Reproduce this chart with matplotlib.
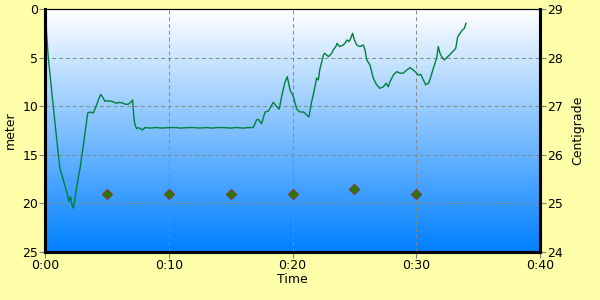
import numpy as np
import matplotlib
matplotlib.use("Agg")
import matplotlib.pyplot as plt
from matplotlib.colors import LinearSegmentedColormap
from matplotlib.ticker import FuncFormatter

# dive profile: time (minutes) and depth (meter)
time_min = [0.05, 0.27, 0.67, 1.08, 1.21, 1.75, 1.94, 2.07, 2.15, 2.29, 2.37, 2.56,
            2.83, 3.1, 3.45, 3.64, 3.9, 4.12, 4.31, 4.5, 4.63, 4.85, 5.1, 5.39, 5.6,
            5.79, 6.0, 6.33, 6.5, 6.73, 6.9, 7.0, 7.08, 7.19, 7.27, 7.4, 7.55, 7.68,
            7.89, 8.08, 8.5, 9.0, 9.5, 10.0, 10.5, 11.0, 11.5, 12.0, 12.5, 13.0, 13.5,
            14.0, 14.5, 15.0, 15.5, 16.0, 16.5, 16.83, 17.1, 17.24, 17.5, 17.78, 18.05,
            18.45, 18.72, 18.93, 19.12, 19.4, 19.58, 19.8, 20.07, 20.34, 20.6, 20.9,
            21.15, 21.33, 21.55, 21.68, 21.95, 22.09, 22.2, 22.5, 22.6, 22.9, 23.17,
            23.3, 23.5, 23.6, 23.8, 24.1, 24.24, 24.4, 24.57, 24.7, 24.86, 25.0, 25.19,
            25.45, 25.72, 25.86, 26.0, 26.26, 26.53, 26.8, 27.07, 27.34, 27.56, 27.74,
            27.88, 28.15, 28.42, 28.7, 28.95, 29.23, 29.5, 29.76, 30.03, 30.17, 30.36,
            30.57, 30.76, 30.97, 31.1, 31.38, 31.65, 31.78, 31.92, 32.05, 32.27, 32.46,
            32.7, 32.95, 33.19, 33.35, 33.54, 33.72, 33.88, 34.02]
depth_m = [1.06, 5.07, 10.05, 15.0, 16.4, 18.8, 19.8, 19.3, 20.0, 20.5, 20.0, 18.3,
           16.4, 14.0, 10.7, 10.6, 10.7, 10.05, 9.36, 8.78, 9.0, 9.5, 9.45, 9.5, 9.6,
           9.7, 9.6, 9.7, 9.8, 9.8, 9.6, 9.5, 9.36, 11.25, 11.9, 12.3, 12.2, 12.3,
           12.45, 12.2, 12.25, 12.2, 12.25, 12.2, 12.2, 12.25, 12.2, 12.2, 12.25, 12.2,
           12.25, 12.2, 12.2, 12.25, 12.2, 12.25, 12.2, 12.2, 11.4, 11.35, 11.8, 10.6,
           10.5, 9.6, 10.05, 10.3, 9.0, 7.5, 6.96, 8.33, 9.0, 10.3, 10.6, 10.6,
           10.9, 11.1, 9.5, 8.85, 7.1, 7.3, 6.28, 4.73, 4.56, 4.9, 4.56,
           4.2, 3.87, 3.53, 3.87, 3.7, 3.53, 3.19, 3.36, 3.02, 2.5, 3.19, 3.7,
           3.87, 3.7, 4.2, 5.25, 5.76, 7.13, 7.8, 8.16, 8.0, 7.65, 8.0,
           7.48, 6.8, 6.45, 6.6, 6.6, 6.28, 6.04, 6.28, 6.6, 6.8, 6.72,
           7.3, 7.8, 7.65, 7.3, 6.1, 5.07, 3.87, 4.56, 4.9, 5.25, 5.0,
           4.73, 4.39, 4.05, 2.85, 2.5, 2.16, 2.0, 1.47]

# water temperature samples
temp_time = [5, 10, 15, 20, 25, 30]
temp_c = [25.2, 25.2, 25.2, 25.2, 25.3, 25.2]

bg = '#FFFFAA'
fig = plt.figure(figsize=(6, 3), dpi=100, facecolor=bg)
ax = fig.add_axes([0.075, 0.16, 0.825, 0.81])

cmap = LinearSegmentedColormap.from_list('water', ['#FFFFFF', '#0080FF'])
grad = np.linspace(0, 1, 256).reshape(-1, 1)
ax.imshow(grad, cmap=cmap, aspect='auto', extent=[0, 1, 0, 1],
          transform=ax.transAxes, zorder=0, origin='upper')

ax.plot(time_min, depth_m, color='#00803C', lw=1.0, zorder=3)
ax.set_xlim(0, 40)
ax.set_ylim(25, 0)
ax.set_xticks([0, 10, 20, 30, 40])
ax.set_yticks([0, 5, 10, 15, 20, 25])
ax.xaxis.set_major_formatter(FuncFormatter(lambda v, p: '%d:%02d' % (v // 60, v % 60)))
ax.grid(True, color='#888888', linestyle=(0, (4, 3)), lw=0.7, zorder=1)
ax.set_axisbelow(False)
ax.set_ylabel('meter', fontsize=9, labelpad=4)
ax.set_xlabel('Time', fontsize=9, labelpad=1)
ax.tick_params(labelsize=9, length=4, color='#808080', pad=1)

ax2 = ax.twinx()
ax2.set_ylim(24, 29)
ax2.set_yticks([24, 25, 26, 27, 28, 29])
ax2.plot(temp_time, temp_c, linestyle='none', marker='D', markersize=5.5,
         markerfacecolor='#287A00', markeredgecolor='#804030', markeredgewidth=0.9, zorder=4)
ax2.set_ylabel('Centigrade', fontsize=9, labelpad=6)
ax2.tick_params(labelsize=9, length=4, color='#808080', pad=1)

for a in (ax, ax2):
    a.spines['left'].set_linewidth(2.2)
    a.spines['bottom'].set_linewidth(2.2)
    a.spines['right'].set_linewidth(2.2)
    a.spines['top'].set_linewidth(0.8)

fig.savefig('out.png', dpi=100, facecolor=bg)
